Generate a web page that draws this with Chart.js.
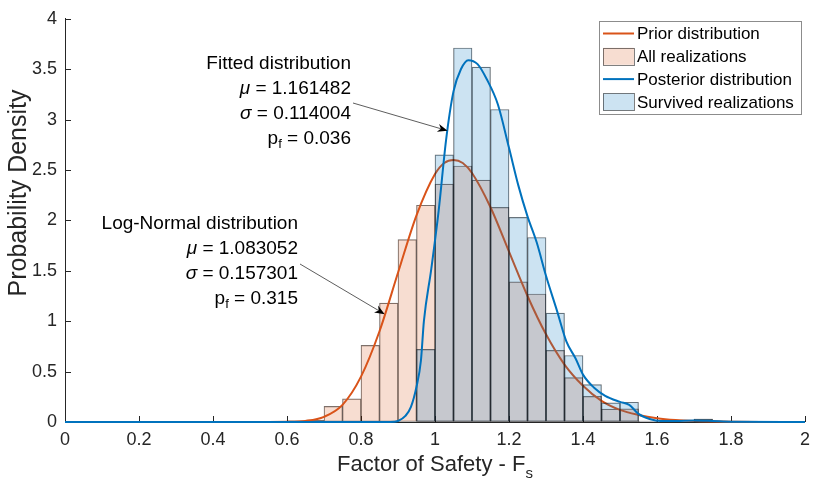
<!DOCTYPE html>
<html>
<head>
<meta charset="utf-8">
<script src="https://cdn.jsdelivr.net/npm/chart.js@4.4.1/dist/chart.umd.min.js"></script>
<style>
    body { margin: 0; background: #fff; }
    #wrap { width: 817px; height: 486px; }
</style>
</head>
<body>
<div id="wrap"><canvas id="fsChart" width="817" height="486"></canvas></div>
<script>
// Histogram bins (Factor of Safety), bin width 0.05
var binEdges = [0.60, 0.65, 0.70, 0.75, 0.80, 0.85, 0.90, 0.95, 1.00, 1.05, 1.10, 1.15, 1.20,
    1.25, 1.30, 1.35, 1.40, 1.45, 1.50, 1.55, 1.60, 1.65, 1.70, 1.75, 1.80, 1.85];

var allRealizations = [0.015, 0.02, 0.155, 0.23, 0.76, 1.18, 1.81, 2.15, 2.36, 2.54, 2.40, 2.13,
    1.39, 1.27, 0.71, 0.44, 0.255, 0.127, 0.13, 0.01, 0.005, 0.005, 0.03, 0.01, 0.01];

var survivedRealizations = [0, 0, 0, 0, 0, 0, 0, 0.72, 2.65, 3.71, 3.52, 3.10,
    2.03, 1.83, 1.08, 0.66, 0.37, 0.19, 0.196, 0.01, 0.01, 0, 0.03, 0.01, 0.005];

// Prior (log-normal) curve
var priorX = [0, 0.55, 0.6, 0.65, 0.7, 0.75, 0.8, 0.85, 0.9, 0.95, 1.0, 1.025, 1.05, 1.075, 1.1,
    1.15, 1.2, 1.25, 1.3, 1.35, 1.4, 1.45, 1.5, 1.55, 1.6, 1.65, 1.7, 1.8, 1.9, 2.0];
var priorY = [0, 0.0002, 0.0015, 0.011, 0.051, 0.17, 0.45, 0.90, 1.48, 2.05, 2.46, 2.57, 2.60, 2.57, 2.47,
    2.13, 1.69, 1.25, 0.87, 0.57, 0.36, 0.21, 0.12, 0.07, 0.037, 0.019, 0.01, 0.003, 0.001, 0];

// Posterior curve
var posteriorX = [0, 0.88, 0.9, 0.92, 0.935, 0.95, 0.962, 0.97, 0.99, 1.01, 1.03, 1.05, 1.07, 1.09,
    1.115, 1.14, 1.17, 1.2, 1.225, 1.25, 1.275, 1.3, 1.33, 1.355, 1.38, 1.4, 1.43, 1.46, 1.5,
    1.525, 1.55, 1.58, 1.61, 1.65, 1.7, 1.75, 1.8, 2.0];
var posteriorY = [0, 0, 0.01, 0.06, 0.15, 0.35, 0.61, 1.0, 1.52, 2.1, 2.8, 3.28, 3.5, 3.59,
    3.55, 3.4, 3.15, 2.72, 2.35, 2.04, 1.78, 1.45, 1.1, 0.8, 0.63, 0.47, 0.34, 0.26, 0.2,
    0.17, 0.08, 0.03, 0.01, 0.01, 0.015, 0.01, 0.003, 0];

var xTicks = [0, 0.2, 0.4, 0.6, 0.8, 1, 1.2, 1.4, 1.6, 1.8, 2];
var yTicks = [0, 0.5, 1, 1.5, 2, 2.5, 3, 3.5, 4];

var FONT = "'Liberation Sans', Arial, Helvetica, sans-serif";
var ORANGE = 'rgb(217, 83, 25)';
var BLUE = 'rgb(0, 114, 189)';

function toPoints(xs, ys)
{
    return xs.map(function (x, i) { return { x: x, y: ys[i] }; });
}

function binPoints(vals)
{
    return vals.map(function (v, i) { return { x: (binEdges[i] + binEdges[i + 1]) / 2, y: v }; });
}

function fmt(v)
{
    return String(+v.toFixed(2));
}

// draws parts of one text line right-aligned at xr
function rightLine(ctx, parts, xr, y)
{
    var total = 0;
    parts.forEach(function (p)
    {
        ctx.font = p.font;
        total += ctx.measureText(p.t).width;
    });
    var x = xr - total;
    parts.forEach(function (p)
    {
        ctx.font = p.font;
        ctx.fillText(p.t, x, y + (p.dy || 0));
        x += ctx.measureText(p.t).width;
    });
}

function arrow(ctx, x0, y0, x1, y1)
{
    var ang = Math.atan2(y1 - y0, x1 - x0);
    var L = 10, W = 4, B = 7;
    ctx.strokeStyle = '#333';
    ctx.lineWidth = 0.8;
    ctx.beginPath();
    ctx.moveTo(x0, y0);
    ctx.lineTo(x1 - Math.cos(ang) * B, y1 - Math.sin(ang) * B);
    ctx.stroke();
    ctx.fillStyle = '#000';
    ctx.beginPath();
    ctx.moveTo(x1, y1);
    ctx.lineTo(x1 - Math.cos(ang) * L - Math.sin(ang) * W, y1 - Math.sin(ang) * L + Math.cos(ang) * W);
    ctx.lineTo(x1 - Math.cos(ang) * B, y1 - Math.sin(ang) * B);
    ctx.lineTo(x1 - Math.cos(ang) * L + Math.sin(ang) * W, y1 - Math.sin(ang) * L - Math.cos(ang) * W);
    ctx.closePath();
    ctx.fill();
}

function textBlock(ctx, xr, yTop, title, mu, sigma, pf)
{
    var reg = '19px ' + FONT, ita = 'italic 19px ' + FONT, sub = '13px ' + FONT;
    var step = 24.8;
    ctx.fillStyle = '#000';
    ctx.textBaseline = 'middle';
    rightLine(ctx, [{ t: title, font: reg }], xr, yTop);
    rightLine(ctx, [{ t: '\u03bc', font: ita }, { t: ' = ' + mu, font: reg }], xr, yTop + step);
    rightLine(ctx, [{ t: '\u03c3', font: ita }, { t: ' = ' + sigma, font: reg }], xr, yTop + step * 2);
    rightLine(ctx, [{ t: 'p', font: reg }, { t: 'f', font: sub, dy: 6 }, { t: ' = ' + pf, font: reg }], xr, yTop + step * 3);
}

var axesPlugin = {
    id: 'axesPlugin',
    beforeDatasetsDraw: function (chart)
    {
        var ctx = chart.ctx, xs = chart.scales.x, ys = chart.scales.y, a = chart.chartArea;
        ctx.save();
        ctx.strokeStyle = '#262626';
        ctx.lineWidth = 1;
        ctx.beginPath();
        xTicks.forEach(function (v)
        {
            var px = Math.round(xs.getPixelForValue(v)) + 0.5;
            ctx.moveTo(px, a.bottom);
            ctx.lineTo(px, a.bottom - 6);
        });
        yTicks.forEach(function (v)
        {
            var py = Math.round(ys.getPixelForValue(v)) + 0.5;
            ctx.moveTo(a.left, py);
            ctx.lineTo(a.left + 6, py);
        });
        ctx.stroke();
        ctx.restore();
    },
    afterDraw: function (chart)
    {
        var ctx = chart.ctx, xs = chart.scales.x, ys = chart.scales.y, a = chart.chartArea;
        ctx.save();

        // y axis title
        ctx.fillStyle = '#262626';
        ctx.textBaseline = 'middle';
        ctx.textAlign = 'center';
        ctx.font = '25px ' + FONT;
        ctx.save();
        ctx.translate(19, 193);
        ctx.rotate(-Math.PI / 2);
        ctx.fillText('Probability Density', 0, 0);
        ctx.restore();
        ctx.textAlign = 'left';

        // x axis title with subscript
        ctx.font = '22px ' + FONT;
        var t1 = 'Factor of Safety - F';
        var w1 = ctx.measureText(t1).width;
        ctx.font = '15px ' + FONT;
        var w2 = ctx.measureText('s').width;
        var cx = (a.left + a.right) / 2;
        var x0 = cx - (w1 + w2) / 2;
        ctx.font = '22px ' + FONT;
        ctx.fillText(t1, x0, 465);
        ctx.font = '15px ' + FONT;
        ctx.fillText('s', x0 + w1, 474);

        // annotations
        textBlock(ctx, 351, 64, 'Fitted distribution', '1.161482', '0.114004', '0.036');
        arrow(ctx, 353, 103, xs.getPixelForValue(1.034), ys.getPixelForValue(2.89));
        textBlock(ctx, 298, 224, 'Log-Normal distribution', '1.083052', '0.157301', '0.315');
        arrow(ctx, 300, 264, xs.getPixelForValue(0.864), ys.getPixelForValue(1.07));

        // legend
        var lx = 599.5, ly = 21.5, lw = 202, lh = 93;
        ctx.fillStyle = '#fff';
        ctx.fillRect(lx, ly, lw, lh);
        ctx.strokeStyle = '#8c8c8c';
        ctx.lineWidth = 1;
        ctx.strokeRect(lx, ly, lw, lh);
        var items = [
            { label: 'Prior distribution', line: ORANGE },
            { label: 'All realizations', fill: 'rgba(217, 83, 25, 0.2)' },
            { label: 'Posterior distribution', line: BLUE },
            { label: 'Survived realizations', fill: 'rgba(0, 114, 189, 0.2)' }
        ];
        ctx.font = '17px ' + FONT;
        items.forEach(function (it, i)
        {
            var y = 33.5 + i * 22.8;
            if (it.line)
            {
                ctx.strokeStyle = it.line;
                ctx.lineWidth = 2;
                ctx.beginPath();
                ctx.moveTo(603, y);
                ctx.lineTo(634, y);
                ctx.stroke();
            }
            else
            {
                ctx.fillStyle = it.fill;
                ctx.fillRect(603, y - 8.5, 31, 17);
                ctx.strokeStyle = 'rgba(0,0,0,0.5)';
                ctx.lineWidth = 1;
                ctx.strokeRect(603.5, Math.round(y - 8.5) + 0.5, 31, 17);
            }
            ctx.fillStyle = '#000';
            ctx.fillText(it.label, 637, y + 1);
        });
        ctx.restore();
    }
};

var ctx = document.getElementById('fsChart').getContext('2d');
var myChart = new Chart(ctx,
{
    type: 'bar',
    data:
    {
        datasets: [
        {
            type: 'line',
            label: 'Prior distribution',
            data: toPoints(priorX, priorY),
            borderColor: ORANGE,
            borderWidth: 2,
            pointRadius: 0,
            cubicInterpolationMode: 'monotone',
            clip: false,
            order: 3
        },
        {
            label: 'All realizations',
            data: binPoints(allRealizations),
            backgroundColor: 'rgba(217, 83, 25, 0.2)',
            borderColor: 'rgba(0, 0, 0, 0.55)',
            borderWidth: 0.5,
            borderSkipped: false,
            grouped: false,
            barPercentage: 1,
            categoryPercentage: 1,
            order: 4
        },
        {
            type: 'line',
            label: 'Posterior distribution',
            data: toPoints(posteriorX, posteriorY),
            borderColor: BLUE,
            borderWidth: 2,
            pointRadius: 0,
            cubicInterpolationMode: 'monotone',
            clip: false,
            order: 1
        },
        {
            label: 'Survived realizations',
            data: binPoints(survivedRealizations),
            backgroundColor: 'rgba(0, 114, 189, 0.2)',
            borderColor: 'rgba(0, 0, 0, 0.55)',
            borderWidth: 0.5,
            borderSkipped: false,
            grouped: false,
            barPercentage: 1,
            categoryPercentage: 1,
            order: 2
        }]
    },
    options:
    {
        responsive: false,
        animation: false,
        devicePixelRatio: 1,
        events: [],
        layout: { padding: { top: 14, right: 7, left: 0, bottom: 0 } },
        plugins:
        {
            legend: { display: false },
            tooltip: { enabled: false }
        },
        scales:
        {
            x:
            {
                type: 'linear',
                min: 0,
                max: 2,
                offset: false,
                afterBuildTicks: function (s) { s.ticks = xTicks.map(function (v) { return { value: v }; }); },
                afterFit: function (s) { s.height = 64; },
                grid: { display: true, drawOnChartArea: false, drawTicks: false, offset: false },
                border: { display: true, color: '#262626', width: 1 },
                ticks:
                {
                    padding: 7,
                    color: '#262626',
                    font: { family: FONT, size: 18 },
                    maxRotation: 0,
                    autoSkip: false,
                    callback: function (v) { return fmt(v); }
                }
            },
            y:
            {
                min: 0,
                max: 4,
                afterBuildTicks: function (s) { s.ticks = yTicks.map(function (v) { return { value: v }; }); },
                afterFit: function (s) { s.width = 65; },
                grid: { display: true, drawOnChartArea: false, drawTicks: false },
                border: { display: true, color: '#262626', width: 1 },
                ticks:
                {
                    padding: 8,
                    color: '#262626',
                    font: { family: FONT, size: 18 },
                    callback: function (v) { return fmt(v); }
                }
            }
        }
    },
    plugins: [axesPlugin]
});
</script>
</body>
</html>
